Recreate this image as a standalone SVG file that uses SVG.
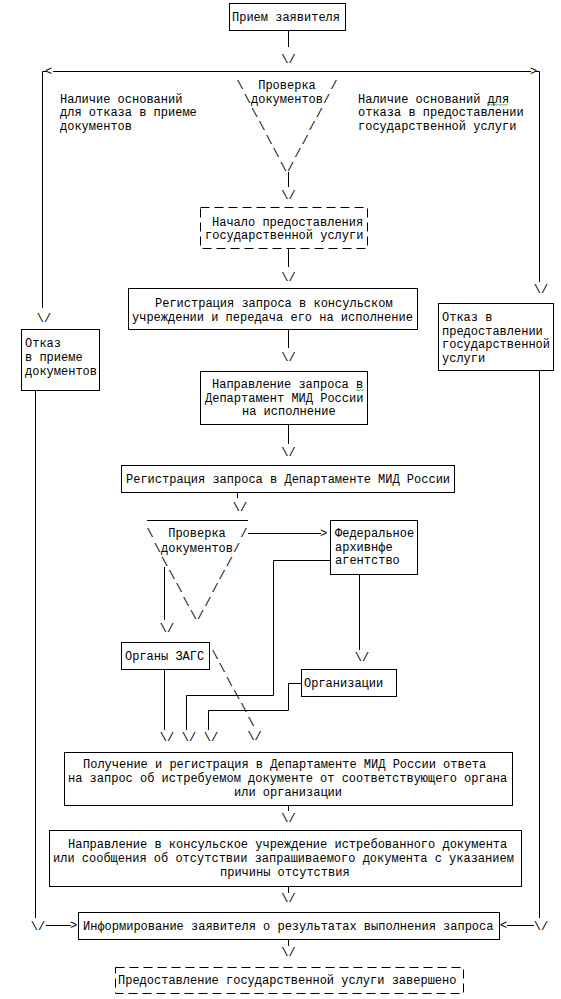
<svg xmlns="http://www.w3.org/2000/svg" width="561" height="999" viewBox="0 0 561 999">
<style>
text{font-family:"Liberation Mono","Courier New",monospace;font-size:12px;fill:#000}
.m{text-anchor:middle}
.p{white-space:pre}
.b{fill:none;stroke:#000;stroke-width:1}
.d{fill:none;stroke:#000;stroke-width:1;stroke-dasharray:9,5}
.c{fill:none;stroke:#000;stroke-width:1}
.w{fill:none;stroke:#1a9a1a;stroke-width:0.8}
</style>
<rect width="561" height="999" fill="#fff"/>

<g id="connectors">
<path class="c" d="M288.5,30.5V47"/>
<text class="m" x="288.5" y="63">\/</text>
<path class="c" d="M42.5,308V71.5H46"/>
<text x="45" y="75">&lt;</text>
<path class="c" d="M53,71.5H531"/>
<text x="530" y="75">&gt;</text>
<path class="c" d="M536,71.5H539.5V282"/>
<text class="m" x="541" y="293">\/</text>
<text class="m" x="44" y="322">\/</text>
<path class="c" d="M288.5,172V187"/>
<text class="m" x="288.5" y="199">\/</text>
<path class="c" d="M288.5,249V267"/>
<text class="m" x="288.5" y="281">\/</text>
<path class="c" d="M288.5,330V348"/>
<text class="m" x="288.5" y="361">\/</text>
<path class="c" d="M288.5,425V444"/>
<text class="m" x="288.5" y="456">\/</text>
<path class="c" d="M237.5,493V498"/>
<text class="m" x="240" y="511">\/</text>
<path class="c" d="M147,520.5H248"/>
<path class="c" d="M248,533.5H321"/>
<text x="320" y="537">&gt;</text>
<path class="c" d="M164.5,567V620"/>
<text class="m" x="167" y="632">\/</text>
<path class="c" d="M164.5,670V730"/>
<text class="m" x="167" y="741">\/</text>
<path class="c" d="M330,560.5H273.5V695.5H186.5V730"/>
<text class="m" x="189" y="741">\/</text>
<path class="c" d="M359.5,575V650"/>
<text class="m" x="362" y="661">\/</text>
<path class="c" d="M301,683.5H288.5V710.5H208.5V730"/>
<text class="m" x="211" y="741">\/</text>
<text x="211.4" y="659">\</text>
<text x="218.6" y="672">\</text>
<text x="225.8" y="686">\</text>
<text x="233" y="699">\</text>
<text x="240.2" y="712">\</text>
<text x="247.4" y="726">\</text>
<text class="m" x="254.6" y="740">\/</text>
<path class="c" d="M288.5,806V811"/>
<text class="m" x="288.5" y="822">\/</text>
<path class="c" d="M288.5,887V893"/>
<text class="m" x="288.5" y="902">\/</text>
<path class="c" d="M35.5,391V918"/>
<text class="m" x="38" y="930">\/</text>
<path class="c" d="M46,925.5H71"/>
<text x="70" y="929">&gt;</text>
<path class="c" d="M539.5,371V918"/>
<text class="m" x="541" y="930">\/</text>
<text x="500" y="929">&lt;</text>
<path class="c" d="M507,925.5H534"/>
<path class="c" d="M288.5,940V946"/>
<text class="m" x="288.5" y="956">\/</text>
</g>

<g id="label-left">
<text x="60" y="102.5">Наличие оснований</text>
<text x="60" y="116">для отказа в приеме</text>
<text x="60" y="129.5">документов</text>
</g>
<g id="label-right">
<text x="358" y="102.5">Наличие оснований для</text>
<text x="358" y="116">отказа в предоставлении</text>
<text x="358" y="129.5">государственной услуги</text>
<path class="w" d="M488,105.5l1.5,-1.5l1.5,1.5l1.5,-1.5l1.5,1.5l1.5,-1.5l1.5,1.5l1.5,-1.5l1.5,1.5l1.5,-1.5l1.5,1.5l1.5,-1.5l1.5,1.5l1.5,-1.5"/>
</g>

<g id="n-priem">
<rect class="b" x="229.5" y="3.5" width="116" height="27"/>
<text x="232" y="21">Прием заявителя</text>
</g>

<g id="n-check1">
<text class="m p" xml:space="preserve" x="287" y="89">\  Проверка  /</text>
<text class="m p" xml:space="preserve" x="287" y="103">\документов/</text>
<text class="m p" xml:space="preserve" x="287" y="116.5">\        /</text>
<text class="m p" xml:space="preserve" x="287" y="130">\      /</text>
<text class="m p" xml:space="preserve" x="287" y="143.5">\    /</text>
<text class="m p" xml:space="preserve" x="287" y="157">\  /</text>
<text class="m p" xml:space="preserve" x="287" y="170.5">\/</text>
</g>

<g id="n-nachalo">
<rect class="d" x="200.5" y="207.5" width="167" height="41"/>
<text x="212" y="226">Начало предоставления</text>
<text x="205" y="239">государственной услуги</text>
</g>

<g id="n-otkaz-priem">
<rect class="b" x="21.5" y="329.5" width="78" height="61"/>
<text x="25" y="347">Отказ</text>
<text x="25" y="361">в приеме</text>
<text x="25" y="375">документов</text>
</g>

<g id="n-otkaz-pred">
<rect class="b" x="438.5" y="303.5" width="115" height="67"/>
<text x="442" y="321">Отказ в</text>
<text x="442" y="334.5">предоставлении</text>
<text x="442" y="348">государственной</text>
<text x="442" y="361.5">услуги</text>
</g>

<g id="n-reg-kons">
<rect class="b" x="128.5" y="288.5" width="289" height="41"/>
<text x="155" y="307">Регистрация запроса в консульском</text>
<text x="132" y="321">учреждении и передача его на исполнение</text>
</g>

<g id="n-napr">
<rect class="b" x="200.5" y="371.5" width="167" height="53"/>
<text x="212" y="388">Направление запроса в</text>
<text x="205" y="402">Департамент МИД России</text>
<text x="242" y="415">на исполнение</text>
<path class="w" d="M356,391l1.5,-1.5l1.5,1.5l1.5,-1.5l1.5,1.5l1.5,-1.5"/>
</g>

<g id="n-reg-dep">
<rect class="b" x="121.5" y="465.5" width="333" height="27"/>
<text x="126" y="483">Регистрация запроса в Департаменте МИД России</text>
</g>

<g id="n-check2">
<text class="m p" xml:space="preserve" x="197" y="537">\  Проверка  /</text>
<text class="m p" xml:space="preserve" x="197" y="552">\документов/</text>
<text class="m p" xml:space="preserve" x="197" y="566">\        /</text>
<text class="m p" xml:space="preserve" x="197" y="579">\      /</text>
<text class="m p" xml:space="preserve" x="197" y="592">\    /</text>
<text class="m p" xml:space="preserve" x="197" y="606">\  /</text>
<text class="m p" xml:space="preserve" x="197" y="619">\/</text>
</g>

<g id="n-fed">
<rect class="b" x="330.5" y="520.5" width="87" height="54"/>
<text x="335" y="537">Федеральное</text>
<text x="335" y="550.5">архивнфе</text>
<text x="335" y="564">агентство</text>
</g>

<g id="n-zags">
<rect class="b" x="121.5" y="642.5" width="88" height="27"/>
<text x="125" y="660">Органы ЗАГС</text>
</g>

<g id="n-org">
<rect class="b" x="301.5" y="669.5" width="95" height="27"/>
<text x="304" y="687">Организации</text>
</g>

<g id="n-poluch">
<rect class="b" x="64.5" y="752.5" width="448" height="53"/>
<text x="83" y="768">Получение и регистрация в Департаменте МИД России ответа</text>
<text x="68" y="782">на запрос об истребуемом документе от соответствующего органа</text>
<text x="234" y="796">или организации</text>
</g>

<g id="n-napr-kons">
<rect class="b" x="49.5" y="830.5" width="472" height="56"/>
<text x="68" y="848">Направление в консульское учреждение истребованного документа</text>
<text x="53" y="862">или сообщения об отсутствии запрашиваемого документа с указанием</text>
<text x="220" y="876">причины отсутствия</text>
</g>

<g id="n-inform">
<rect class="b" x="78.5" y="912.5" width="421" height="27"/>
<text x="83" y="930">Информирование заявителя о результатах выполнения запроса</text>
</g>

<g id="n-end">
<rect class="d" x="115.5" y="967.5" width="348" height="26"/>
<text x="118" y="984">Предоставление государственной услуги завершено</text>
</g>
</svg>
